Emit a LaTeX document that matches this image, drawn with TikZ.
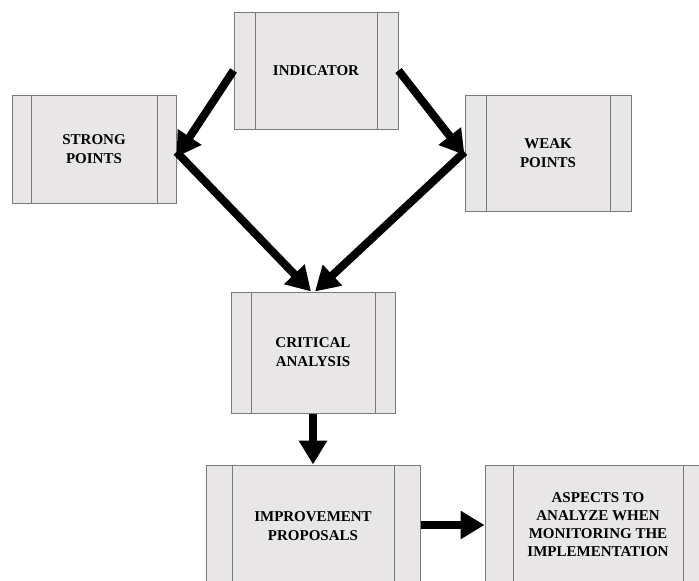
\documentclass[tikz,border=0pt]{standalone}
\usepackage{fontspec}
\setmainfont{Liberation Serif}
\usetikzlibrary{arrows.meta}
\definecolor{boxfill}{HTML}{E8E6E7}
\definecolor{boxline}{HTML}{7A7A7A}
\tikzset{
  pbox/.style n args={3}{draw=boxline, line width=1pt, fill=boxfill,
    minimum width=#1, minimum height=#2, inner sep=0pt,
    align=center, font=\fontsize{15}{19}\selectfont\bfseries,
    path picture={
      \draw[boxline, line width=1pt]
        ([xshift=#3]path picture bounding box.north west) --
        ([xshift=#3]path picture bounding box.south west);
      \draw[boxline, line width=1pt]
        ([xshift=-#3]path picture bounding box.north east) --
        ([xshift=-#3]path picture bounding box.south east);
    }},
  bigarrow/.style={line width=8pt, -{Triangle[length=24pt,width=27pt]}},
}
\begin{document}
\begin{tikzpicture}[x=1pt, y=-1pt]
\useasboundingbox (0,0) rectangle (699,581);
\clip (0,0) rectangle (699,581);
\node[pbox={164pt}{117pt}{21pt}] (ind) at (316,70.5) {INDICATOR};
\node[pbox={164pt}{108pt}{19pt}] (strong) at (94,149) {STRONG\\POINTS};
\node[pbox={166pt}{116pt}{21pt}] (weak) at (548,153) {WEAK\\POINTS};
\node[pbox={164pt}{121pt}{20pt}] (crit) at (313,352.5) {CRITICAL\\ANALYSIS};
\node[pbox={214pt}{122pt}{26pt}] (impr) at (313,526) {IMPROVEMENT\\PROPOSALS};
\node[pbox={226pt}{120pt}{28pt}, font=\fontsize{15}{18}\selectfont\bfseries] (asp) at (598,525) {ASPECTS TO\\ANALYZE WHEN\\MONITORING THE\\IMPLEMENTATION};
\draw[bigarrow] (ind.west) -- ([yshift=-8pt]strong.east);
\draw[bigarrow] (ind.east) -- ([yshift=-2pt]weak.west);
\draw[bigarrow] ([yshift=-3pt]strong.east) -- ([xshift=-2pt]crit.north);
\draw[bigarrow] ([yshift=1pt]weak.west) -- ([xshift=2pt]crit.north);
\draw[bigarrow] (crit.south) -- (impr.north);
\draw[bigarrow] (asp.west -| impr.east) -- (asp.west);
\end{tikzpicture}
\end{document}
